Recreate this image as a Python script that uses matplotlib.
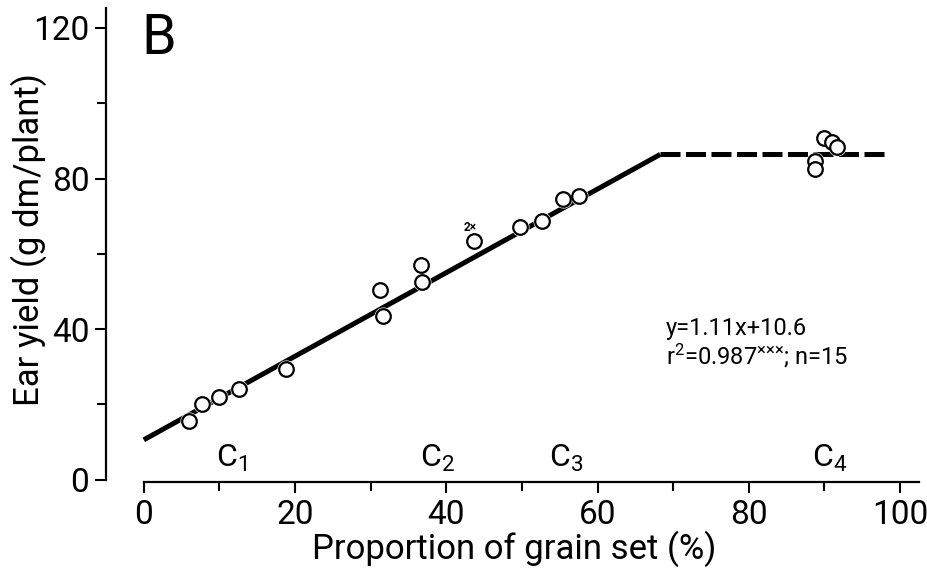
import numpy as np
import matplotlib
matplotlib.use("Agg")
import matplotlib.pyplot as plt
from matplotlib.ticker import MultipleLocator

plt.rcParams['font.family'] = ['Roboto', 'DejaVu Sans']
plt.rcParams['mathtext.fontset'] = 'custom'
plt.rcParams['mathtext.rm'] = 'Roboto'
plt.rcParams['mathtext.it'] = 'Roboto'

# grain set (%) and ear yield (g dm/plant)
grain_set = [6.0, 7.7, 10.0, 12.6, 18.8, 31.3, 31.6, 36.6, 36.8, 43.7,
             49.7, 52.7, 55.4, 57.6]
ear_yield = [15.7, 20.2, 22.0, 24.1, 29.4, 50.3, 43.5, 57.1, 52.6, 63.3,
             67.2, 68.8, 74.5, 75.4]
plateau_x = [90.0, 91.0, 91.7, 88.7, 88.8]
plateau_y = [90.7, 89.6, 88.5, 84.7, 82.5]

slope, intercept = 1.11, 10.6
x_break = 68.3
x_end = 98.6

classes = ['C$_1$', 'C$_2$', 'C$_3$', 'C$_4$']
class_x = [11.6, 38.8, 55.8, 90.7]

fig = plt.figure(figsize=(9.28, 5.75), dpi=100)
ax = fig.add_axes([0.1142, 0.1617, 0.8801, 0.8258])

# regression line, then plateau
xl = np.array([0, x_break])
ax.plot(xl, slope * xl + intercept, color='black', lw=3.6, solid_capstyle='butt', zorder=2)
y_plat = slope * x_break + intercept
ax.plot([x_break, x_end], [y_plat, y_plat], color='black', lw=3.6,
        dashes=(4, 1.1), dash_capstyle='butt', zorder=2)

# white halo around circles so the line looks broken
allx = grain_set + plateau_x
ally = ear_yield + plateau_y
ax.plot(allx, ally, 'o', ms=13, mfc='white', mec='white', mew=0, zorder=3)
ax.plot(allx, ally, 'o', ms=10.5, mfc='white', mec='black', mew=1.6, zorder=4)

ax.text(43.2, 67.0, '2×', fontsize=8.5, fontweight='bold', ha='center', va='center')

for lab, cx in zip(classes, class_x):
    ax.text(cx, 3.5, lab, fontsize=23, ha='center', va='baseline')

ax.text(69.0, 38.5, 'y=1.11x+10.6', fontsize=17, ha='left', va='baseline')
ax.text(69.0, 31.0, 'r$^2$=0.987$^{\\mathrm{×××}}$; n=15', fontsize=17,
        ha='left', va='baseline')

ax.text(-0.3, 113, 'B', fontsize=40, ha='left', va='baseline')

ax.set_xlim(-5, 103)
ax.set_ylim(-0.6, 125.5)
ax.spines['top'].set_visible(False)
ax.spines['right'].set_visible(False)
ax.spines['left'].set_bounds(0, 125.3)
ax.spines['bottom'].set_bounds(0, 102.5)
ax.spines['left'].set_linewidth(1.6)
ax.spines['bottom'].set_linewidth(1.6)

ax.xaxis.set_minor_locator(MultipleLocator(10))
ax.yaxis.set_minor_locator(MultipleLocator(20))
ax.set_xticks([0, 20, 40, 60, 80, 100])
ax.set_yticks([0, 40, 80, 120])
ax.tick_params(axis='both', which='major', labelsize=24, length=8, width=1.5, pad=4)
ax.tick_params(axis='both', which='minor', length=6.5, width=1.5)

ax.set_xlabel('Proportion of grain set (%)', fontsize=25, labelpad=0)
ax.set_ylabel('Ear yield (g dm/plant)', fontsize=25)
ax.yaxis.set_label_coords(-0.072, 0.51)

fig.savefig('out.png', dpi=100)
